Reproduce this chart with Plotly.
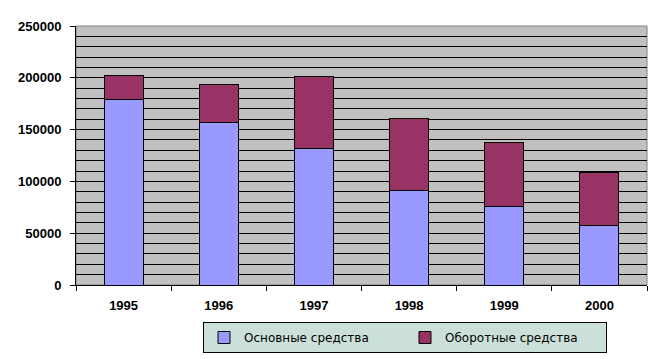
import plotly.graph_objects as go

years = ["1995", "1996", "1997", "1998", "1999", "2000"]
osnovnye = [179000, 157000, 132000, 91000, 76000, 57000]
oborotnye = [23000, 37000, 69000, 70000, 62000, 52000]
y_ticks = [0, 50000, 100000, 150000, 200000, 250000]

fig = go.Figure()
fig.add_trace(go.Bar(x=years, y=osnovnye, name="Основные средства",
                     marker=dict(color="#9999ff", line=dict(color="black", width=1))))
fig.add_trace(go.Bar(x=years, y=oborotnye, name="Оборотные средства",
                     marker=dict(color="#993366", line=dict(color="black", width=1))))

tick_font = dict(family="Liberation Sans, Arial", size=13, color="black", weight="bold")

fig.update_layout(
    barmode="stack",
    bargap=0.59,
    width=662, height=359,
    margin=dict(l=76, r=15, t=26, b=74, autoexpand=False),
    paper_bgcolor="white",
    plot_bgcolor="#c0c0c0",
    font=dict(family="Liberation Sans, Arial", size=12, color="black"),
    showlegend=True,
    legend=dict(orientation="h", xref="container", x=203 / 662, xanchor="left",
                yref="container", y=(359 - 322) / 359, yanchor="top",
                bgcolor="#cce0da", bordercolor="black", borderwidth=1,
                font=dict(family="DejaVu Sans, Verdana", size=12), traceorder="normal",
                entrywidth=156, itemwidth=30),
    xaxis=dict(type="category", showline=True, linecolor="black", linewidth=1,
               ticks="outside", tickson="boundaries", ticklen=5, tickcolor="black",
               showgrid=False, tickfont=tick_font, ticklabelstandoff=8),
    yaxis=dict(range=[0, 250000], tickvals=y_ticks, showline=True, linecolor="black",
               linewidth=1, ticks="outside", ticklen=5, tickcolor="black",
               showgrid=True, gridcolor="black", gridwidth=1,
               minor=dict(dtick=10000, showgrid=True, gridcolor="black", gridwidth=1),
               tickformat="d", tickfont=tick_font, ticklabelstandoff=6, zeroline=False),
)
fig.add_shape(type="rect", xref="paper", yref="paper", x0=0, x1=1, y0=0, y1=1,
              line=dict(color="#808080", width=1), layer="below")

fig.write_html("out.html")
